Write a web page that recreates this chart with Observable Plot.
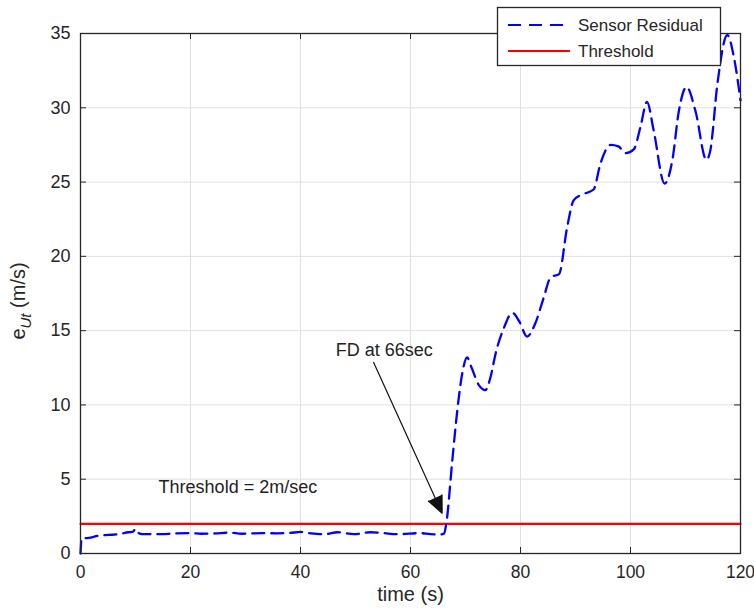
<!DOCTYPE html>
<html><head><meta charset="utf-8">
<script src="https://cdn.jsdelivr.net/npm/d3@7"></script>
<script src="https://cdn.jsdelivr.net/npm/@observablehq/plot@0.6"></script>
<style>body{margin:0;background:#fff;} #chart{width:754px;height:612px;}</style>
</head><body><div id="chart"></div>
<script>
// ---- data ----
const time = [0, 0.2, 1.5, 3.3, 5.1, 7, 8.7, 9.5, 10, 10.5, 11.2, 14.8, 17, 20, 22, 24.5, 27, 29.4, 33, 35.8, 38, 40, 42, 44.5, 46.7, 49.7, 52.7, 55, 57.6, 61.8, 63.6, 65.5, 66.1, 66.5, 67.6, 68.5, 69.4, 70.3, 71, 72.5, 73.6, 74.5, 75.5, 77, 78.5, 79.8, 81.2, 82.7, 84.2, 85.5, 87, 88.5, 89.7, 91.5, 93.3, 94.5, 96.4, 97.8, 99.1, 100.6, 101.8, 103, 104.2, 106.2, 107.6, 108.8, 110.2, 111.8, 113.8, 114.5, 115.8, 117.6, 118.8, 120];
const residual = [0, 1.0, 1.05, 1.2, 1.25, 1.3, 1.43, 1.45, 1.66, 1.4, 1.3, 1.3, 1.35, 1.37, 1.33, 1.35, 1.4, 1.33, 1.37, 1.36, 1.38, 1.45, 1.35, 1.3, 1.43, 1.3, 1.43, 1.38, 1.3, 1.37, 1.3, 1.28, 1.35, 2.0, 6.26, 9.6, 12.1, 13.2, 12.6, 11.3, 11.0, 11.8, 13.5, 15.2, 16.2, 15.6, 14.6, 15.5, 17.2, 18.6, 18.8, 22.0, 23.8, 24.2, 24.5, 26.2, 27.5, 27.4, 26.95, 27.2, 28.7, 30.4, 28.5, 24.9, 26.45, 29.8, 31.4, 29.8, 26.5, 27.1, 31.6, 34.9, 33.4, 30.5];
const thresholdTime = [0, 120];
const thresholdValue = [2, 2];
const xTicks = [0, 20, 40, 60, 80, 100, 120];
const yTicks = [0, 5, 10, 15, 20, 25, 30, 35];
const seriesNames = ["Sensor Residual", "Threshold"];
const xLabel = "time (s)";
const fdText = ["FD at 66sec"];
const fdTextPos = [46.4, 13.66];
const fdArrow = [53.3, 12.86, 65.75, 2.71];
const thrText = ["Threshold = 2m/sec"];
const thrTextPos = [14.2, 4.44];

const residualData = time.map((t, i) => ({t, v: residual[i]}));
const thresholdData = thresholdTime.map((t, i) => ({t, v: thresholdValue[i]}));

const W = 754, H = 612, mL = 80, mR = 14, mT = 33, mB = 59;
const innerW = W - mL - mR, innerH = H - mT - mB;
const tick = 6;
const axisColor = "#262626";

const plot = Plot.plot({
  width: W, height: H,
  marginLeft: mL, marginRight: mR, marginTop: mT, marginBottom: mB,
  style: {fontFamily: "'Liberation Sans', Arial, Helvetica, sans-serif", fontSize: "18px", color: axisColor, background: "#fff"},
  x: {domain: [0, 120], label: null, axis: null},
  y: {domain: [0, 35], ticks: yTicks, tickSize: 0, tickPadding: 10, label: null},
  marks: [
    Plot.ruleX(xTicks, {x: d => d, stroke: "#e0e0e0", strokeWidth: 1}),
    Plot.ruleY(yTicks, {y: d => d, stroke: "#e0e0e0", strokeWidth: 1}),
    Plot.axisX({ticks: xTicks, tickSize: 0, tickPadding: 12, fontSize: 17.5, label: null}),
    Plot.tickX(xTicks, {x: d => d, insetTop: innerH - tick, stroke: axisColor}),
    Plot.tickX(xTicks, {x: d => d, insetBottom: innerH - tick, stroke: axisColor}),
    Plot.tickY(yTicks, {y: d => d, insetRight: innerW - tick, stroke: axisColor}),
    Plot.tickY(yTicks, {y: d => d, insetLeft: innerW - tick, stroke: axisColor}),
    Plot.line(thresholdData, {x: "t", y: "v", stroke: "#ff0000", strokeWidth: 2.2}),
    Plot.line(residualData, {x: "t", y: "v", stroke: "#0000ff", strokeWidth: 2.3, strokeDasharray: "12,7", curve: "monotone-x"}),
    Plot.arrow([fdArrow], {x1: d => d[0], y1: d => d[1], x2: d => d[2], y2: d => d[3], stroke: "#111", fill: "#111", strokeWidth: 1.2, headLength: 23, headAngle: 48}),
    Plot.text(fdText, {x: fdTextPos[0], y: fdTextPos[1], text: d => d, textAnchor: "start", fontSize: 18, fill: "#222"}),
    Plot.text(thrText, {x: thrTextPos[0], y: thrTextPos[1], text: d => d, textAnchor: "start", fontSize: 18, fill: "#222"}),
    Plot.text([xLabel], {frameAnchor: "bottom", text: d => d, dy: 47, fontSize: 20, fill: axisColor}),
    Plot.frame({stroke: axisColor, strokeWidth: 1.3})
  ]
});

const svg = d3.select(plot);
// y-axis label with subscript
const yl = svg.append("text")
  .attr("transform", "translate(25,301) rotate(-90)")
  .attr("text-anchor", "middle")
  .attr("font-size", 20)
  .attr("fill", axisColor);
yl.append("tspan").text("e");
yl.append("tspan").attr("font-style", "italic").attr("font-size", 15).attr("dy", 6).text("Ut");
yl.append("tspan").attr("dy", -6).text(" (m/s)");

// legend
const lg = svg.append("g");
lg.append("rect").attr("x", 497.5).attr("y", 7.5).attr("width", 223).attr("height", 58)
  .attr("fill", "#fff").attr("stroke", axisColor).attr("stroke-width", 1.3);
const legendStyles = [
  {stroke: "#0000ff", dash: "13,8"},
  {stroke: "#ff0000", dash: null}
];
seriesNames.forEach((name, i) => {
  const y = 25 + i * 26;
  const ln = lg.append("line").attr("x1", 508).attr("x2", 570).attr("y1", y).attr("y2", y)
    .attr("stroke", legendStyles[i].stroke).attr("stroke-width", 2.2);
  if (legendStyles[i].dash) ln.attr("stroke-dasharray", legendStyles[i].dash);
  lg.append("text").attr("x", 578).attr("y", y).attr("dy", "0.35em")
    .attr("text-anchor", "start")
    .attr("font-size", 17).attr("fill", axisColor).text(name);
});

document.getElementById("chart").appendChild(plot);
</script>
</body></html>
